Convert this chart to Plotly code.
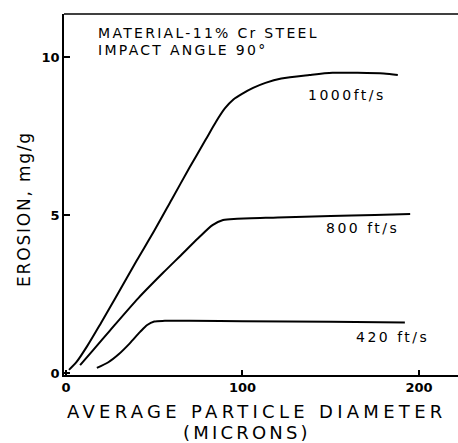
import plotly.graph_objects as go

# Data
x_1000 = [1.7, 6, 12, 20, 28, 40, 50, 60, 70, 79, 85, 90, 95, 100, 106, 113, 122, 138, 151, 165, 180, 188]
y_1000 = [0.1, 0.35, 0.85, 1.6, 2.37, 3.55, 4.5, 5.5, 6.5, 7.37, 7.95, 8.37, 8.66, 8.84, 9.02, 9.18, 9.32, 9.43, 9.5, 9.5, 9.48, 9.43]

x_800 = [8, 15, 25, 41, 55, 65, 75, 83, 89, 97, 120, 150, 175, 195]
y_800 = [0.25, 0.7, 1.35, 2.37, 3.17, 3.72, 4.27, 4.68, 4.84, 4.88, 4.92, 4.97, 5.0, 5.03]

x_420 = [17.5, 24, 30, 36, 42, 46, 50, 56, 70, 100, 150, 192]
y_420 = [0.16, 0.34, 0.6, 0.93, 1.3, 1.52, 1.63, 1.65, 1.65, 1.64, 1.62, 1.6]

series_names = ["1000ft/s", "800 ft/s", "420 ft/s"]
label_pos = [(159, 8.8), (168, 4.59), (185, 1.14)]

x_ticks = [0, 100, 200]
y_ticks = [0, 5, 10]

FONT = "DejaVu Sans"

fig = go.Figure()
for xs, ys, name in zip([x_1000, x_800, x_420], [y_1000, y_800, y_420], series_names):
    fig.add_trace(go.Scatter(x=xs, y=ys, mode="lines", name=name,
                             line=dict(color="black", width=2, shape="spline", smoothing=0.8),
                             showlegend=False))

def spaced(t, s):
    return f'<span style="letter-spacing:{s}px">{t}</span>'

anns = []
for name, (lx, ly) in zip(series_names, label_pos):
    anns.append(dict(x=lx, y=ly, xref="x", yref="y", xanchor="center", yanchor="middle",
                     text=spaced(name, 2.5), showarrow=False,
                     font=dict(family=FONT, size=14, color="black")))

anns.append(dict(x=17, y=10.76, xref="x", yref="y", xanchor="left", yanchor="middle",
                 text=spaced("MATERIAL-11% Cr STEEL", 2.3),
                 showarrow=False, font=dict(family=FONT, size=14, color="black")))
anns.append(dict(x=17, y=10.22, xref="x", yref="y", xanchor="left", yanchor="middle",
                 text=spaced("IMPACT ANGLE 90°", 2.3),
                 showarrow=False, font=dict(family=FONT, size=14, color="black")))
anns.append(dict(x=-0.1015, y=0.46, xref="paper", yref="paper", xanchor="center", yanchor="middle",
                 text=spaced("EROSION, mg/g", 1.8),
                 textangle=-90, showarrow=False, font=dict(family=FONT, size=17, color="black")))
anns.append(dict(x=0.49, y=-0.102, xref="paper", yref="paper", xanchor="center", yanchor="middle",
                 text=spaced("AVERAGE PARTICLE DIAMETER", 4.3),
                 showarrow=False, font=dict(family=FONT, size=18, color="black")))
anns.append(dict(x=0.465, y=-0.16, xref="paper", yref="paper", xanchor="center", yanchor="middle",
                 text=spaced("(MICRONS)", 3.2),
                 showarrow=False, font=dict(family=FONT, size=18, color="black")))

fig.update_layout(
    width=458, height=443,
    margin=dict(l=64, r=0, t=14, b=68),
    plot_bgcolor="white", paper_bgcolor="white",
    annotations=anns,
    xaxis=dict(range=[-1.13, 222.1], tickvals=x_ticks, ticktext=[f"<b>{v}</b>" for v in x_ticks],
               ticks="inside", ticklen=5, tickwidth=1.5, tickcolor="black",
               showline=True, linecolor="black", linewidth=1.5, mirror=False,
               showgrid=False, zeroline=False,
               tickfont=dict(family=FONT, size=13, color="black")),
    yaxis=dict(range=[-0.063, 11.36], tickvals=y_ticks, ticktext=[f"<b>{v}</b>" for v in y_ticks],
               ticks="inside", ticklen=6, tickwidth=1.5, tickcolor="black",
               showline=True, linecolor="black", linewidth=1.5,
               showgrid=False, zeroline=False,
               tickfont=dict(family=FONT, size=13, color="black")),
    shapes=[dict(type="line", xref="paper", yref="paper", x0=0, x1=1, y0=1, y1=1,
                 line=dict(color="black", width=1.5))],
)

fig.write_html("out.html")
